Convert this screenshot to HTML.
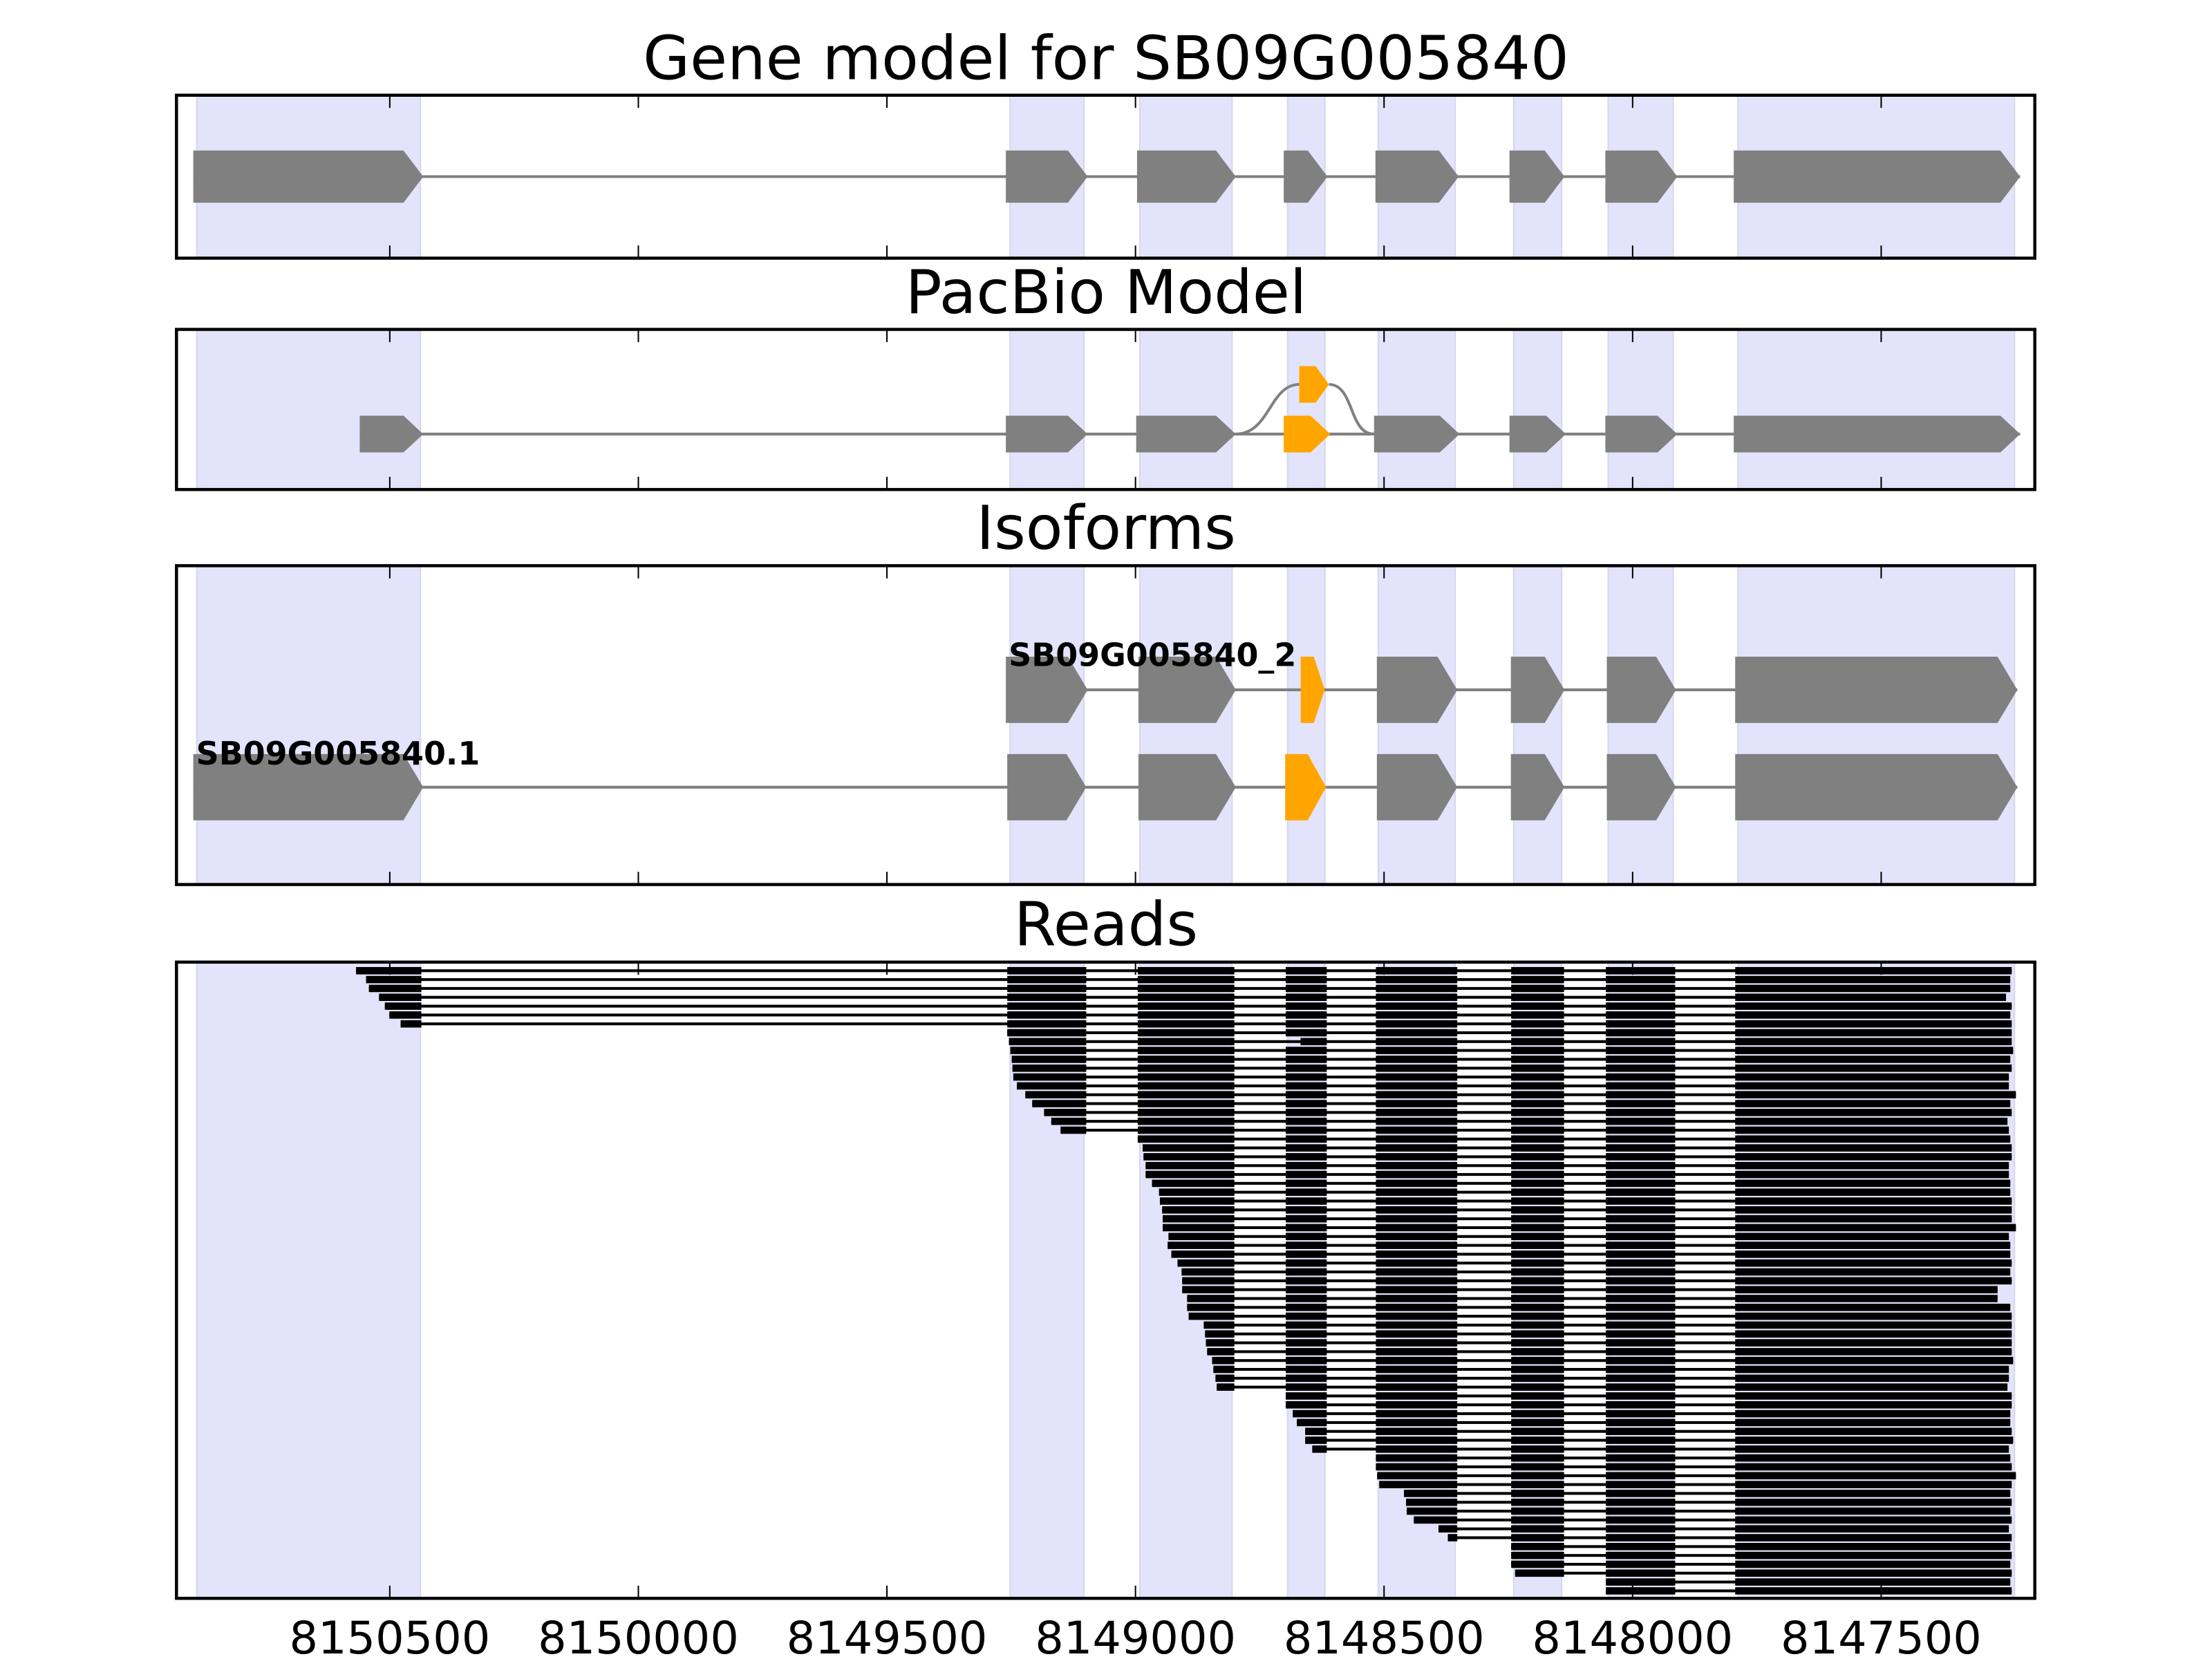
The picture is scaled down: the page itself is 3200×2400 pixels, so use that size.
<!DOCTYPE html>
<html><head><meta charset="utf-8"><style>html,body{margin:0;padding:0;background:#fff}svg{display:block}</style></head>
<body>
<svg id="s" xmlns="http://www.w3.org/2000/svg" width="3200" height="2400" viewBox="0 0 1568 1176" font-family="DejaVu Sans, Liberation Sans, sans-serif">
<rect width="1568" height="1176" fill="#fff"/>
<g id="g"></g>
<g font-size="43" text-anchor="middle" fill="#000">
<text x="784" y="56">Gene model for SB09G005840</text>
<text x="784" y="222">PacBio Model</text>
<text x="784" y="389">Isoforms</text>
<text x="784" y="670">Reads</text>
</g>
<g font-size="32" text-anchor="middle" fill="#000">
<text x="276.3" y="1172">8150500</text>
<text x="452.5" y="1172">8150000</text>
<text x="628.7" y="1172">8149500</text>
<text x="804.9" y="1172">8149000</text>
<text x="981.1" y="1172">8148500</text>
<text x="1157.3" y="1172">8148000</text>
<text x="1333.5" y="1172">8147500</text>
</g>
<g font-size="22.5" font-weight="bold" fill="#000">
<text x="139" y="542">SB09G005840.1</text>
<text x="715" y="472">SB09G005840_2</text>
</g>
</svg>
<script>
const NS="http://www.w3.org/2000/svg",G=document.getElementById('g');
function el(t,a){const e=document.createElementNS(NS,t);for(const k in a)e.setAttribute(k,a[k]);G.appendChild(e);return e;}
const L=125.1,R=1442.4;
const panels=[[67.5,183],[233.5,347],[401,627],[682,1133]];
const bands=[[139.5,298],[716,768.4],[808,873.4],[912.7,939.2],[977,1031.5],[1073,1107],[1140,1186],[1232,1428]];
const ticks=[276.3,452.5,628.7,804.9,981.1,1157.3,1333.5];
panels.forEach(p=>{bands.forEach(b=>el('rect',{x:b[0],y:p[0],width:b[1]-b[0],height:p[1]-p[0],fill:'#e3e3fb',stroke:'#d6d6ec','stroke-width':1}));});
function exon(x0,x1,cy,h,col){const tip=Math.min(14,(x1-x0)*0.45);const b=x1-tip;
 el('polygon',{points:`${x0},${cy-h/2} ${b},${cy-h/2} ${x1},${cy} ${b},${cy+h/2} ${x0},${cy+h/2}`,fill:col});}
function model(ex,cy,h){el('line',{x1:ex[0][0],x2:ex[ex.length-1][1],y1:cy,y2:cy,stroke:'#808080','stroke-width':2});
 ex.forEach(e=>exon(e[0],e[1],cy,h,e[2]||'#808080'));}
const O='#ffa500';
model([[137,300],[713,771],[806,876],[910,941],[975,1034],[1070,1109],[1138,1189],[1229,1432]],125.2,37);
el('path',{d:'M876,307.7 C900,307.7 900,272.5 921,272.5 M942,272.5 C960,272.5 956,307.7 974,307.7',fill:'none',stroke:'#808080','stroke-width':2});
model([[255,300],[713,771],[805.4,876],[910,943,O],[974,1034.6],[1070,1110],[1138,1189],[1229,1432]],307.7,26);
exon(921,942,272.5,26,O);
model([[713,771],[807,876],[922,939,O],[976,1033],[1071,1109],[1139,1188],[1230,1430]],489,47);
model([[137,300],[714,770],[807,876],[911,940,O],[976,1033],[1071,1109],[1139,1188],[1230,1430]],558,47);
const E=[[0,298.7],[714,770],[806.5,875],[911.4,940.5],[975.3,1033],[1071.2,1108.7],[1138.3,1187.5],[1230,1426]];
const rows=[];
[252.4,259.5,261.5,268.7,272.8,276,284].forEach(s=>rows.push([0,s]));
[714,715.2,716.2,717.2,717.7,718.3,720.8,726.8,731.7,740.1,745.2,751.8].forEach(s=>rows.push([1,s]));
[806.5,810,810.6,812.1,812.1,816.6,821.6,822.2,823.8,824.2,824.2,828.3,827.7,830.3,834.7,837.6,838,838,841.5,841.5,842.6,853.3,854.2,854.8,855.7,859.2,860.1,861.6,862.5].forEach(s=>rows.push([2,s]));
[911.4,911.4,916.4,919.3,925.2,925.2,930.2].forEach(s=>rows.push([3,s]));
[975.3,975.3,976.2,977.7,995.2,996.7,997.2,1002.2,1019.7,1026.3].forEach(s=>rows.push([4,s]));
[1071.2,1071.2,1071.2,1074].forEach(s=>rows.push([5,s]));
[1138.3,1138.3].forEach(s=>rows.push([6,s]));
const ends=[1426,1425,1425,1422,1426,1425,1426,1426,1426,1427,1425,1426,1424,1424,1429,1425,1426,1423,1424,1425,1426,1426,1424,1424,1425,1425,1426,1426,1426,1429,1424,1425,1425,1426,1425,1426,1416,1416,1425,1426,1426,1426,1426,1426,1427,1424,1424,1423,1426,1426,1425,1425,1426,1427,1424,1425,1426,1429,1426,1425,1426,1425,1426,1424,1426,1425,1426,1425,1426,1425,1426];
rows.forEach((r,i)=>{const cy=688.1+i*6.28,end=ends[i%ends.length];
 el('rect',{x:r[1],y:cy-1,width:end-r[1],height:2,fill:'#000'});
 for(let k=r[0];k<8;k++){let a=(k===r[0])?r[1]:E[k][0],b=(k===7)?end:E[k][1];
  if(i===8&&k===3)a=921.9;
  el('rect',{x:a,y:cy-2.6,width:b-a,height:5.2,fill:'#000'});}
});
panels.forEach(p=>{el('rect',{x:L,y:p[0],width:R-L,height:p[1]-p[0],fill:'none',stroke:'#000','stroke-width':2.2});
 ticks.forEach(t=>{el('line',{x1:t,x2:t,y1:p[0],y2:p[0]+9,stroke:'#000','stroke-width':1});el('line',{x1:t,x2:t,y1:p[1],y2:p[1]-9,stroke:'#000','stroke-width':1});});});
</script>
</body></html>
